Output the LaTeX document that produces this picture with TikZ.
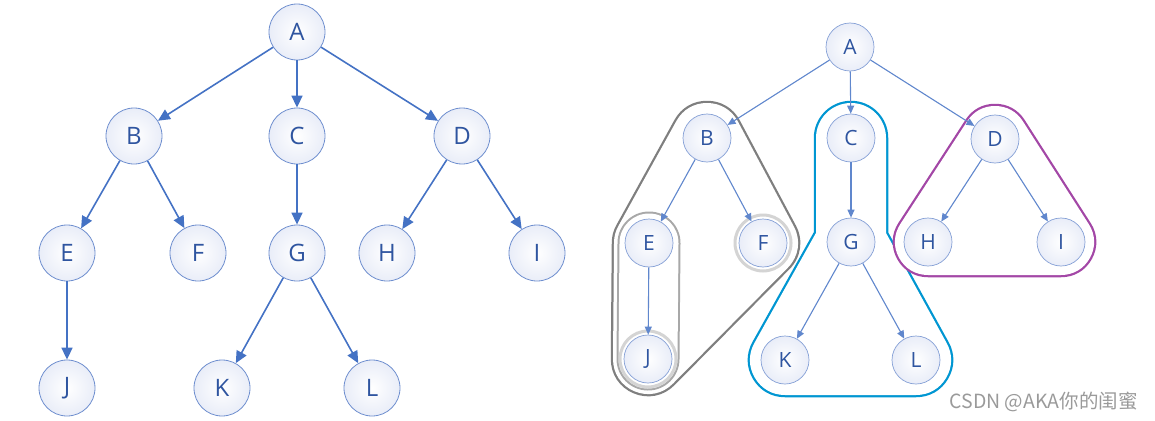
\documentclass[tikz,border=0pt]{standalone}
\usepackage{fontspec}
\setmainfont{Open Sans}
\newfontfamily\cjk{Noto Sans CJK SC}
\usetikzlibrary{arrows.meta,calc}
\definecolor{edgeblue}{HTML}{4472C4}
\definecolor{nodeborder}{HTML}{6F8FCF}
\definecolor{nodetext}{HTML}{2F55A0}
\definecolor{nodefill}{HTML}{E9EDF8}
\definecolor{hullgray}{HTML}{7F7F7F}
\definecolor{innergray}{HTML}{A8A8A8}
\definecolor{ringgray}{HTML}{D4D4D4}
\definecolor{hullblue}{HTML}{0096D2}
\definecolor{hullpurple}{HTML}{A347A6}
\definecolor{wmgray}{HTML}{9A9A9A}
\tikzset{
  bignode/.style={circle, draw=nodeborder, line width=0.8pt, inner color=white, outer color=nodefill,
    minimum size=56pt, inner sep=0pt, text=nodetext, font=\fontsize{24}{28}\selectfont},
  smallnode/.style={circle, draw=nodeborder!85, line width=0.7pt, inner color=white, outer color=nodefill,
    minimum size=48pt, inner sep=0pt, text=nodetext, font=\fontsize{21}{25}\selectfont},
  bigedge/.style={draw=edgeblue, line width=1.6pt, -{Triangle[length=12pt,width=11pt]}},
  smalledge/.style={draw=edgeblue!85, line width=1.1pt, -{Triangle[length=8pt,width=7pt]}},
  ring/.style={draw=ringgray, line width=3pt},
}
\begin{document}
\begin{tikzpicture}[x=1pt,y=-1pt]
\useasboundingbox (0,0) rectangle (1155,420);
% ---------- left tree ----------
\node[bignode] (A) at (297,32) {A};
\node[bignode] (B) at (134,136) {B};
\node[bignode] (C) at (297,136) {C};
\node[bignode] (D) at (462,136) {D};
\node[bignode] (E) at (67,253) {E};
\node[bignode] (F) at (198,253) {F};
\node[bignode] (G) at (297,253) {G};
\node[bignode] (H) at (387,253) {H};
\node[bignode] (I) at (537,253) {I};
\node[bignode] (J) at (67,388) {J};
\node[bignode] (K) at (222,388) {K};
\node[bignode] (L) at (372,388) {L};
\draw[bigedge] (A) -- (B);
\draw[bigedge] (A) -- (C);
\draw[bigedge] (A) -- (D);
\draw[bigedge] (B) -- (E);
\draw[bigedge] (B) -- (F);
\draw[bigedge] (C) -- (G);
\draw[bigedge] (D) -- (H);
\draw[bigedge] (D) -- (I);
\draw[bigedge] (E) -- (J);
\draw[bigedge] (G) -- (K);
\draw[bigedge] (G) -- (L);
% ---------- right tree: centres ----------
\coordinate (a) at (850,47);
\coordinate (b) at (707,138);
\coordinate (c) at (851,138);
\coordinate (d) at (995,139);
\coordinate (e) at (649,243);
\coordinate (f) at (763,243);
\coordinate (g) at (851,242);
\coordinate (h) at (928,242);
\coordinate (i) at (1061,242);
\coordinate (j) at (648,359);
\coordinate (k) at (785,360);
\coordinate (l) at (916,360);
% hulls (outline = thick coloured stroke under a thinner white one)
\path[draw=hullgray, fill=hullgray, line width=74.5pt, line join=round] (b) -- (e) -- (j) -- (f) -- cycle;
\path[draw=white, fill=white, line width=70pt, line join=round] (b) -- (e) -- (j) -- (f) -- cycle;
\path[draw=hullblue, fill=hullblue, line width=74.5pt, line join=round, line cap=round] (g) -- (k) -- (l) -- cycle (c) -- (g);
\path[draw=white, fill=white, line width=70pt, line join=round, line cap=round] (g) -- (k) -- (l) -- cycle (c) -- (g);
\path[draw=hullpurple, fill=hullpurple, line width=70.5pt, line join=round] (d) -- (h) -- (i) -- cycle;
\path[draw=white, fill=white, line width=66pt, line join=round] (d) -- (h) -- (i) -- cycle;
% inner gray hull around E-J
\path[draw=innergray, line width=63pt, line cap=round] (e) -- (j);
\path[draw=white, line width=59pt, line cap=round] (e) -- (j);
% rings
\draw[ring] (f) circle[radius=28pt];
\draw[ring] (j) circle[radius=28pt];
% nodes
\node[smallnode] (rA) at (a) {A};
\node[smallnode] (rB) at (b) {B};
\node[smallnode] (rC) at (c) {C};
\node[smallnode] (rD) at (d) {D};
\node[smallnode] (rE) at (e) {E};
\node[smallnode] (rF) at (f) {F};
\node[smallnode] (rG) at (g) {G};
\node[smallnode] (rH) at (h) {H};
\node[smallnode] (rI) at (i) {I};
\node[smallnode] (rJ) at (j) {J};
\node[smallnode] (rK) at (k) {K};
\node[smallnode] (rL) at (l) {L};
\draw[smalledge] (rA) -- (rB);
\draw[smalledge] (rA) -- (rC);
\draw[smalledge] (rA) -- (rD);
\draw[smalledge] (rB) -- (rE);
\draw[smalledge] (rB) -- (rF);
\draw[smalledge] (rC) -- (rG);
\draw[smalledge] (rD) -- (rH);
\draw[smalledge] (rD) -- (rI);
\draw[smalledge] (rE) -- (rJ);
\draw[smalledge] (rG) -- (rK);
\draw[smalledge] (rG) -- (rL);
% watermark
\node[text=wmgray, font=\cjk\fontsize{19.5}{22}\selectfont, anchor=east] (wm) at (1141,402) {CSDN @AKA你的闺蜜};
\end{tikzpicture}
\end{document}
